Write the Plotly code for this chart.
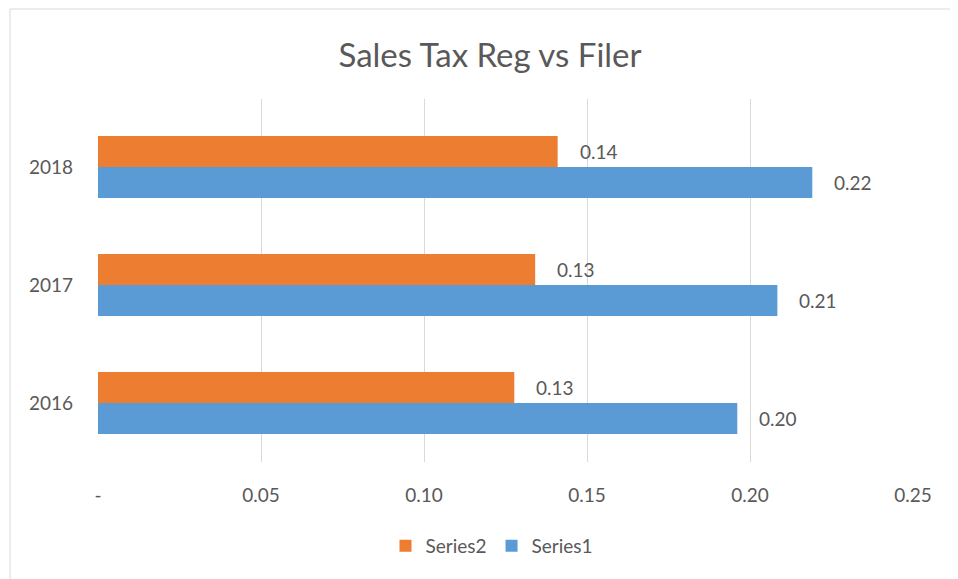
import plotly.graph_objects as go

categories = ["2016", "2017", "2018"]
series1 = [0.1961, 0.2084, 0.2191]
series2 = [0.1277, 0.1341, 0.1410]
x_tickvals = [0, 0.05, 0.10, 0.15, 0.20, 0.25]
x_ticktext = ["-", "0.05", "0.10", "0.15", "0.20", "0.25"]

BLUE = "#5B9BD5"
ORANGE = "#ED7D31"
TXT = "#595959"
GRID = "#D9D9D9"
FONT = "Lato"

OFF = 8  # page body margin
W, H = 950, 571
L, R, T, B = 90, 45, 91, 117
pw, ph = W - L - R, H - T - B

BARGAP = 0.475
YR = [-0.5, 2.576]

fig = go.Figure()
fig.add_trace(go.Bar(name="Series1", y=categories, x=series1, orientation="h",
                     marker=dict(color=BLUE, line=dict(width=0))))
fig.add_trace(go.Bar(name="Series2", y=categories, x=series2, orientation="h",
                     marker=dict(color=ORANGE, line=dict(width=0))))

# data labels
step = ph / (YR[1] - YR[0])
bar_px = step * (1 - BARGAP) / 2
for vals, sh in [(series1, -bar_px / 2), (series2, bar_px / 2)]:
    for i, v in enumerate(vals):
        fig.add_annotation(x=v, y=i, xref="x", yref="y", text=f"{v:.2f}", showarrow=False,
                           xanchor="left", yanchor="middle", xshift=20, yshift=sh,
                           font=dict(family=FONT, size=19, color=TXT))

def px_x(p):
    return (p - OFF - L) / pw

def px_y(p):
    return (H - B - (p - OFF)) / ph

# outer chart border (top and left)
fig.add_shape(type="line", xref="paper", yref="paper", x0=px_x(10), x1=px_x(960),
              y0=px_y(9), y1=px_y(9), line=dict(color=GRID, width=1))
fig.add_shape(type="line", xref="paper", yref="paper", x0=px_x(10), x1=px_x(10),
              y0=px_y(9), y1=px_y(590), line=dict(color=GRID, width=1))

fig.update_layout(
    width=W, height=H,
    margin=dict(l=L, r=R, t=T, b=B),
    paper_bgcolor="white", plot_bgcolor="white",
    barmode="group", bargap=BARGAP, bargroupgap=0,
    title=dict(text="Sales Tax Reg vs Filer", x=(490 - OFF) / W, xanchor="center",
               y=1 - (55 - OFF) / H, yanchor="middle",
               font=dict(family=FONT, size=33, color=TXT)),
    font=dict(family=FONT, size=19, color=TXT),
    showlegend=True,
    legend=dict(orientation="h", traceorder="reversed", x=px_x(492), xanchor="center",
                y=px_y(546), yanchor="middle", font=dict(family=FONT, size=19, color=TXT),
                itemwidth=30, tracegroupgap=0),
    xaxis=dict(range=[0, 0.25], tickvals=x_tickvals, ticktext=x_ticktext,
               showgrid=True, gridcolor=GRID, gridwidth=1, zeroline=False,
               showline=False, ticks="", ticklabelstandoff=20,
               tickfont=dict(family=FONT, size=19, color=TXT)),
    yaxis=dict(type="category", categoryorder="array", categoryarray=categories,
               range=YR, showgrid=False, zeroline=False, showline=False,
               ticks="", ticklabelstandoff=24,
               tickfont=dict(family=FONT, size=19, color=TXT)),
)

fig.write_html("out.html")
